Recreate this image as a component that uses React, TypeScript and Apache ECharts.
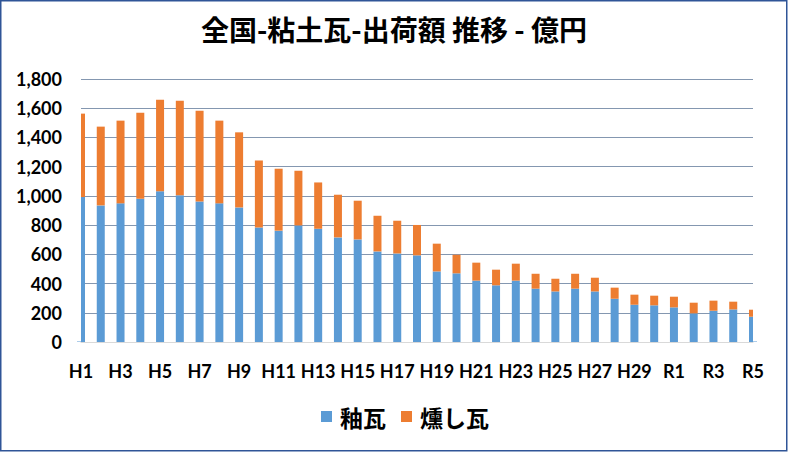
import React, { useEffect, useRef } from "react";
import * as echarts from "echarts";

const categories = [
  "H1", "H2", "H3", "H4", "H5", "H6", "H7", "H8", "H9", "H10",
  "H11", "H12", "H13", "H14", "H15", "H16", "H17", "H18", "H19", "H20",
  "H21", "H22", "H23", "H24", "H25", "H26", "H27", "H28", "H29", "H30",
  "R1", "R2", "R3", "R4", "R5",
];

// 釉瓦 (glazed tiles), 億円
const glazed = [
  992, 935, 949, 981, 1031, 1004, 962, 949, 921, 784,
  762, 798, 775, 716, 702, 620, 606, 593, 483, 470,
  420, 388, 420, 365, 346, 365, 346, 296, 255, 251,
  237, 196, 214, 223, 173,
];

// 燻し瓦 (smoked tiles), 億円
const smoked = [
  571, 539, 566, 588, 627, 647, 621, 566, 514, 459,
  424, 374, 317, 292, 265, 244, 224, 208, 190, 127,
  123, 107, 116, 102, 87, 102, 94, 76, 69, 66,
  73, 73, 69, 53, 48,
];

const yTicks = [0, 200, 400, 600, 800, 1000, 1200, 1400, 1600, 1800];

const title = "全国-粘土瓦-出荷額 推移 - 億円";
const seriesNames = ["釉瓦", "燻し瓦"];

const GRID_LEFT = 81;
const GRID_RIGHT = 35;
const GRID_TOP = 79;
const GRID_BOTTOM = 110;
const W = 788;
const H = 452;

export default function App() {
  const ref = useRef<HTMLDivElement>(null);

  useEffect(() => {
    document.body.style.margin = "0";
    if (!ref.current) return;
    const chart = echarts.init(ref.current, null, { renderer: "svg" });
    const font = "Lato, 'Noto Sans CJK JP', sans-serif";
    const plotH = H - GRID_TOP - GRID_BOTTOM;
    chart.setOption({
      animation: false,
      backgroundColor: "#ffffff",
      textStyle: { fontFamily: font },
      title: {
        text: title,
        left: "center",
        top: 10,
        textStyle: {
          fontFamily: "'Noto Sans CJK JP', sans-serif",
          fontSize: 28,
          fontWeight: "bold",
          color: "#000000",
        },
      },
      legend: {
        bottom: 19,
        left: 316,
        itemWidth: 11,
        itemHeight: 11,
        itemGap: 15,
        icon: "rect",
        textStyle: {
          fontFamily: "'Noto Sans CJK JP', sans-serif",
          fontSize: 23,
          fontWeight: "bold",
          color: "#000000",
          padding: [0, 0, 0, 3],
        },
        data: seriesNames,
      },
      grid: {
        left: GRID_LEFT,
        right: GRID_RIGHT,
        top: GRID_TOP,
        bottom: GRID_BOTTOM,
        containLabel: false,
      },
      xAxis: {
        type: "category",
        data: categories,
        boundaryGap: false,
        axisLine: { show: true, lineStyle: { color: "#D9D9D9", width: 1 } },
        axisTick: { show: false },
        axisLabel: {
          interval: 1,
          fontFamily: font,
          fontSize: 18,
          fontWeight: "bold",
          color: "#000000",
          margin: 20,
        },
        splitLine: { show: false },
      },
      yAxis: {
        type: "value",
        min: yTicks[0],
        max: yTicks[yTicks.length - 1],
        interval: 200,
        axisLine: { show: false },
        axisTick: { show: false },
        axisLabel: {
          fontFamily: font,
          fontSize: 18,
          fontWeight: "bold",
          color: "#000000",
          margin: 19,
          formatter: (v: number) => v.toLocaleString("en-US"),
        },
        splitLine: { lineStyle: { color: "#8497B0", width: 1 } },
      },
      series: [
        {
          name: seriesNames[0],
          type: "bar",
          stack: "total",
          data: glazed,
          barWidth: 8,
          itemStyle: { color: "#5B9BD5" },
        },
        {
          name: seriesNames[1],
          type: "bar",
          stack: "total",
          data: smoked,
          barWidth: 8,
          itemStyle: { color: "#ED7D31" },
        },
      ],
      graphic: [
        // masks: the plot area clips the half bars at both ends
        {
          type: "rect",
          shape: { x: GRID_LEFT - 12, y: GRID_TOP - 2, width: 12, height: plotH + 1.5 },
          style: { fill: "#ffffff" },
          silent: true,
          z: 90,
        },
        {
          type: "rect",
          shape: { x: W - GRID_RIGHT, y: GRID_TOP - 2, width: 12, height: plotH + 1.5 },
          style: { fill: "#ffffff" },
          silent: true,
          z: 90,
        },
        {
          type: "rect",
          shape: { x: 0.75, y: 0.75, width: W - 2, height: H - 2 },
          style: { fill: "none", stroke: "#2F5597", lineWidth: 1.5 },
          silent: true,
          z: 100,
        },
      ],
    });
    return () => chart.dispose();
  }, []);

  return (
    <div
      ref={ref}
      style={{ position: "absolute", left: 0, top: 0, width: W, height: H }}
    />
  );
}
